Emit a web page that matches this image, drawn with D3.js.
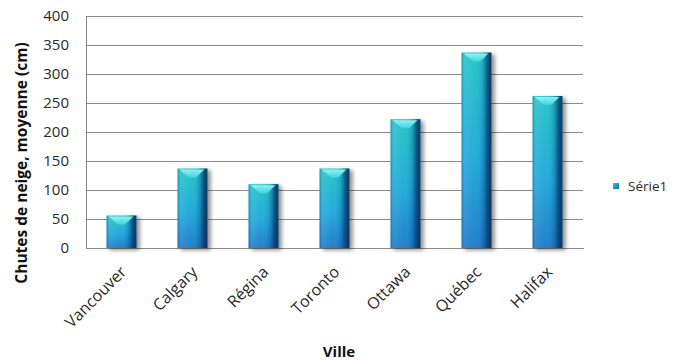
<!DOCTYPE html>
<html>
<head>
<meta charset="utf-8">
<script src="https://cdn.jsdelivr.net/npm/d3@7"></script>
<style>
  html, body { margin: 0; padding: 0; background: #fff; }
  svg { display: block; }
  text { font-family: "Open Sans", Lato, sans-serif; }
</style>
</head>
<body>
<div id="chart"></div>
<script>
// Chutes de neige moyennes annuelles par ville (cm)
const villes = ["Vancouver", "Calgary", "Régina", "Toronto", "Ottawa", "Québec", "Halifax"];
const chutes = [56, 137, 110, 137, 222, 337, 262];
const yTicks = [0, 50, 100, 150, 200, 250, 300, 350, 400];
const serieNom = "Série1";

const W = 693, H = 360;
const margin = { left: 86, right: 110, top: 16, bottom: 112 };
const plotW = W - margin.left - margin.right;
const plotH = H - margin.top - margin.bottom;
const FONT = "'Open Sans', Lato, sans-serif";

const svg = d3.select("#chart").append("svg")
  .attr("width", W).attr("height", H);

const defs = svg.append("defs");

// vertical tint: teal at the top, blue at the base
const gV = defs.append("linearGradient").attr("id", "barV")
  .attr("x1", 0).attr("y1", 0).attr("x2", 0).attr("y2", 1);
gV.append("stop").attr("offset", "0%").attr("stop-color", "#1fc3c6");
gV.append("stop").attr("offset", "55%").attr("stop-color", "#1aa6d8");
gV.append("stop").attr("offset", "100%").attr("stop-color", "#1878c8");

// horizontal shading: light left edge, dark right edge for a rounded look
const gH = defs.append("linearGradient").attr("id", "barH")
  .attr("x1", 0).attr("y1", 0).attr("x2", 1).attr("y2", 0);
gH.append("stop").attr("offset", "0%").attr("stop-color", "#0a3f7a").attr("stop-opacity", 0.35);
gH.append("stop").attr("offset", "12%").attr("stop-color", "#ffffff").attr("stop-opacity", 0.12);
gH.append("stop").attr("offset", "45%").attr("stop-color", "#ffffff").attr("stop-opacity", 0.05);
gH.append("stop").attr("offset", "72%").attr("stop-color", "#0a3f7a").attr("stop-opacity", 0.2);
gH.append("stop").attr("offset", "88%").attr("stop-color", "#06305f").attr("stop-opacity", 0.75);
gH.append("stop").attr("offset", "100%").attr("stop-color", "#052a55").attr("stop-opacity", 0.9);

const gCap = defs.append("linearGradient").attr("id", "cap")
  .attr("x1", 0).attr("y1", 0).attr("x2", 0).attr("y2", 1);
gCap.append("stop").attr("offset", "0%").attr("stop-color", "#9ff7f7");
gCap.append("stop").attr("offset", "100%").attr("stop-color", "#3fd6e6");

const shadow = defs.append("filter").attr("id", "shadow")
  .attr("x", "-30%").attr("y", "-10%").attr("width", "170%").attr("height", "130%");
shadow.append("feDropShadow").attr("dx", 3).attr("dy", 2)
  .attr("stdDeviation", 2).attr("flood-color", "#000").attr("flood-opacity", 0.45);

const g = svg.append("g").attr("transform", `translate(${margin.left},${margin.top})`);

const x = d3.scaleBand().domain(villes).range([0, plotW]).paddingInner(0.58).paddingOuter(0.29);
const y = d3.scaleLinear().domain([0, 400]).range([plotH, 0]);

// gridlines
g.append("g").selectAll("line").data(yTicks).join("line")
  .attr("x1", 0).attr("x2", plotW)
  .attr("y1", d => y(d)).attr("y2", d => y(d))
  .attr("stroke", "#8a8a8a").attr("stroke-width", 1).attr("shape-rendering", "crispEdges");

// y axis
const yAxis = g.append("g")
  .call(d3.axisLeft(y).tickValues(yTicks).tickSize(0).tickPadding(17));
yAxis.select(".domain").attr("stroke", "#8a8a8a").attr("shape-rendering", "crispEdges");
yAxis.selectAll("text").attr("font-size", 15).attr("fill", "#2a2a2a")
  .style("font-family", FONT);

// x axis
const xAxis = g.append("g").attr("transform", `translate(0,${plotH})`)
  .call(d3.axisBottom(x).tickSize(0).tickPadding(0));
xAxis.select(".domain").attr("stroke", "#8a8a8a").attr("shape-rendering", "crispEdges");
xAxis.selectAll("text")
  .attr("font-size", 16).attr("fill", "#2a2a2a")
  .style("font-family", FONT)
  .attr("text-anchor", "end")
  .attr("dy", "0.35em")
  .attr("transform", "translate(2,21) rotate(-45)");

// bars
const bars = g.append("g").selectAll("g").data(villes).join("g")
  .attr("filter", "url(#shadow)");
bars.append("rect")
  .attr("x", d => x(d)).attr("width", x.bandwidth())
  .attr("y", (d, i) => y(chutes[i])).attr("height", (d, i) => y(0) - y(chutes[i]))
  .attr("fill", "url(#barV)");
bars.append("rect")
  .attr("x", d => x(d)).attr("width", x.bandwidth())
  .attr("y", (d, i) => y(chutes[i])).attr("height", (d, i) => y(0) - y(chutes[i]))
  .attr("fill", "url(#barH)");
// bevelled top highlight
bars.append("path")
  .attr("d", (d, i) => {
    const x0 = x(d), w = x.bandwidth(), t = y(chutes[i]);
    return `M${x0 + 2},${t + 1} L${x0 + w - 3},${t + 1} L${x0 + w * 0.62},${t + 9} L${x0 + w * 0.38},${t + 9} Z`;
  })
  .attr("fill", "url(#cap)").attr("opacity", 0.9);

// axis titles
svg.append("text")
  .attr("transform", `translate(27,163) rotate(-90)`)
  .attr("text-anchor", "middle")
  .attr("font-size", 15.5).attr("font-weight", "bold").attr("fill", "#111")
  .text("Chutes de neige, moyenne  (cm)");

svg.append("text")
  .attr("x", 339).attr("y", 357)
  .attr("text-anchor", "middle")
  .attr("font-size", 15).attr("font-weight", "bold").attr("fill", "#111")
  .text("Ville");

// legend
const leg = svg.append("g").attr("transform", "translate(613,183)");
const legGrad = defs.append("linearGradient").attr("id", "legG")
  .attr("x1", 0).attr("y1", 0).attr("x2", 1).attr("y2", 1);
legGrad.append("stop").attr("offset", "0%").attr("stop-color", "#2ec8e0");
legGrad.append("stop").attr("offset", "100%").attr("stop-color", "#1566b0");
leg.append("rect").attr("width", 6).attr("height", 6).attr("fill", "url(#legG)");
leg.append("text").attr("x", 15).attr("y", 8)
  .attr("font-size", 13.5).attr("fill", "#2a2a2a").text(serieNom);
</script>
</body>
</html>
